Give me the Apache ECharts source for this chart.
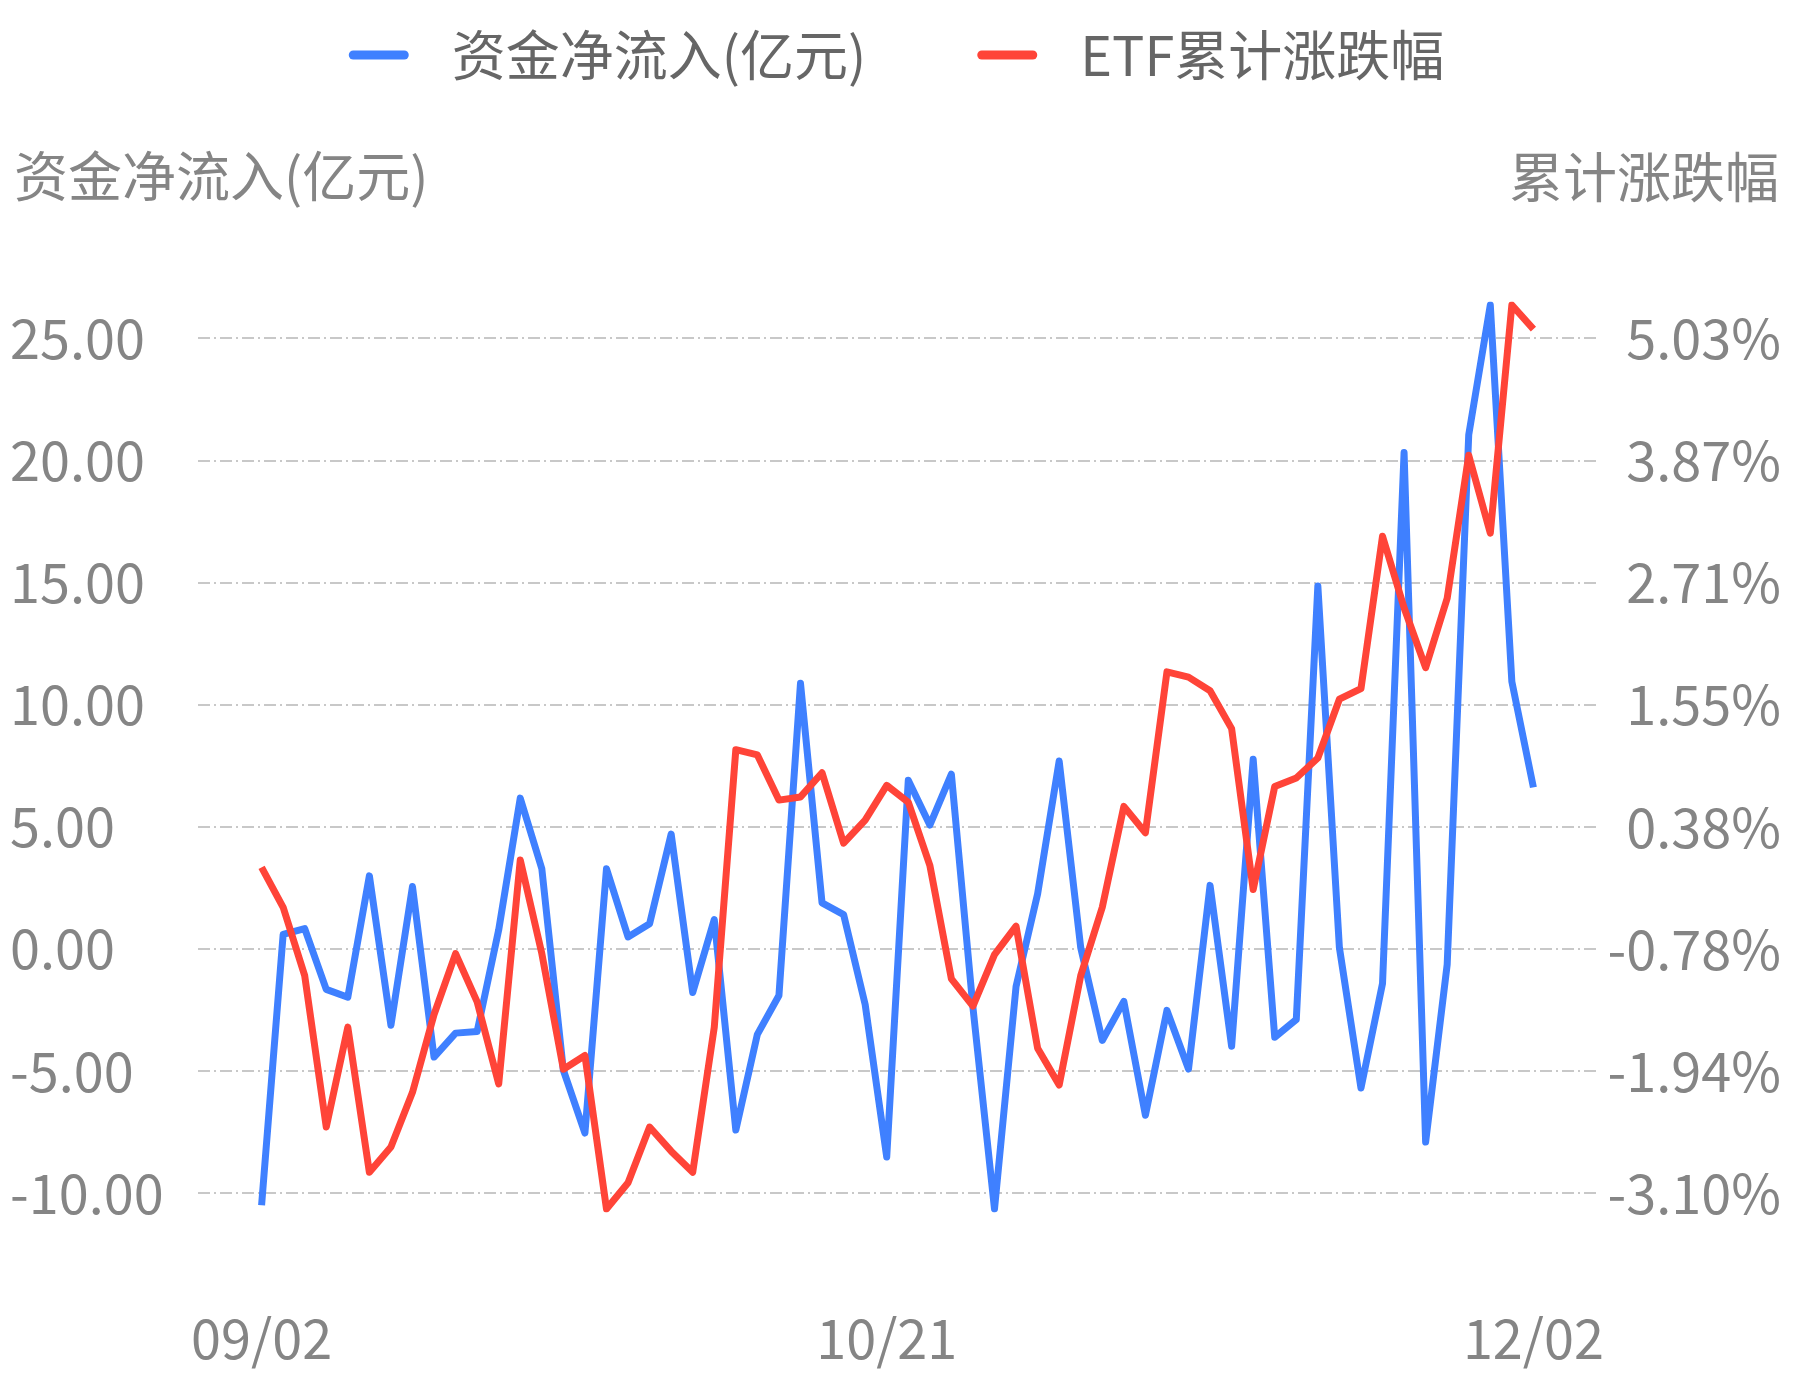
<!DOCTYPE html>
<html>
<head>
<meta charset="utf-8">
<script src="https://cdn.jsdelivr.net/npm/echarts@6/dist/echarts.min.js"></script>
<style>
html,body{margin:0;padding:0;background:#fff;}
#chart{width:1793px;height:1380px;}
</style>
</head>
<body>
<div id="chart"></div>
<script>
// ---- data ----
const dates = [
  '09/02','09/03','09/04','09/05','09/08','09/09','09/10','09/11','09/12','09/15',
  '09/16','09/17','09/18','09/19','09/22','09/23','09/24','09/25','09/26','09/29',
  '09/30','10/09','10/10','10/13','10/14','10/15','10/16','10/17','10/20','10/21',
  '10/22','10/23','10/24','10/27','10/28','10/29','10/30','10/31','11/03','11/04',
  '11/05','11/06','11/07','11/10','11/11','11/12','11/13','11/14','11/17','11/18',
  '11/19','11/20','11/21','11/24','11/25','11/26','11/27','11/28','12/01','12/02'
];
const netInflow = [
  -10.50, 0.59, 0.83, -1.66, -1.98, 2.99, -3.13, 2.55, -4.43, -3.45,
  -3.38, 0.78, 6.17, 3.28, -4.97, -7.54, 3.28, 0.49, 1.03, 4.70,
  -1.79, 1.20, -7.42, -3.50, -1.91, 10.87, 1.88, 1.40, -2.28, -8.52,
  6.90, 5.07, 7.15, -2.40, -10.65, -1.54, 2.25, 7.69, 0.05, -3.75,
  -2.15, -6.81, -2.52, -4.92, 2.60, -3.99, 7.76, -3.62, -2.89, 14.86,
  0.05, -5.70, -1.42, 20.32, -7.91, -0.64, 21.05, 26.36, 10.94, 6.61
];
const cumChange = [
  0.00, -0.38, -1.03, -2.47, -1.52, -2.90, -2.66, -2.14, -1.40, -0.82,
  -1.28, -2.06, 0.07, -0.82, -1.92, -1.79, -3.25, -3.00, -2.47, -2.70,
  -2.90, -1.52, 1.12, 1.07, 0.64, 0.67, 0.90, 0.23, 0.45, 0.78,
  0.62, 0.02, -1.06, -1.32, -0.83, -0.56, -1.72, -2.07, -1.03, -0.38,
  0.58, 0.33, 1.86, 1.81, 1.68, 1.32, -0.21, 0.77, 0.85, 1.04,
  1.60, 1.70, 3.15, 2.47, 1.90, 2.56, 3.92, 3.18, 5.35, 5.12
];
const leftTicks = [-10, -5, 0, 5, 10, 15, 20, 25];
const rightTicks = [-3.10, -1.94, -0.78, 0.38, 1.55, 2.71, 3.87, 5.03];
const xLabelIdx = [0, 29, 59];
const seriesNames = ['资金净流入(亿元)', 'ETF累计涨跌幅'];
const axisNames = ['资金净流入(亿元)', '累计涨跌幅'];

// ---- chart ----
const FONT = '"Noto Sans CJK SC", "Noto Sans", sans-serif';
const AXIS_COLOR = '#858585';
const chart = echarts.init(document.getElementById('chart'), null, {renderer: 'canvas'});
const option = {
  backgroundColor: '#ffffff',
  animation: false,
  textStyle: {fontFamily: FONT},
  title: {
    text: axisNames[0],
    left: 14,
    top: 149,
    padding: 0,
    textStyle: {fontSize: 54, fontWeight: 'normal', color: AXIS_COLOR, fontFamily: FONT}
  },
  legend: {
    top: 23,
    left: 'center',
    itemWidth: 60,
    itemHeight: 9,
    itemGap: 111,
    icon: 'path://M4.5,0 L55.5,0 A4.5,4.5 0 0 1 55.5,9 L4.5,9 A4.5,4.5 0 0 1 4.5,0 Z',
    textStyle: {fontSize: 54, color: '#666666', fontFamily: FONT, padding: [0, 0, 0, 38]},
    data: seriesNames
  },
  grid: {left: 198, right: 196, top: 305, bottom: 171, containLabel: false},
  xAxis: {
    type: 'value',
    min: e => e.min - (e.max - e.min) * 0.05,
    max: e => e.max + (e.max - e.min) * 0.05,
    axisLine: {show: false},
    axisTick: {show: false},
    splitLine: {show: false},
    axisLabel: {
      customValues: xLabelIdx,
      formatter: v => dates[Math.round(v)],
      fontSize: 54, color: AXIS_COLOR, fontFamily: FONT, margin: 102
    }
  },
  yAxis: [
    {
      type: 'value',
      position: 'left',
      offset: 183,
      min: 'dataMin',
      max: 'dataMax',
      axisLine: {show: false},
      axisTick: {show: false, customValues: leftTicks},
      axisLabel: {
        customValues: leftTicks,
        formatter: v => v.toFixed(2),
        align: 'left', margin: 5,
        fontSize: 54, color: AXIS_COLOR, fontFamily: FONT
      },
      splitLine: {show: true, lineStyle: {color: '#c8c8c8', width: 2, type: [12, 4, 2, 4]}}
    },
    {
      type: 'value',
      position: 'right',
      offset: 182,
      min: 'dataMin',
      max: 'dataMax',
      name: axisNames[1],
      nameLocation: 'end',
      nameGap: 128,
      nameMoveOverlap: false,
      nameTextStyle: {fontSize: 54, color: AXIS_COLOR, fontFamily: FONT, align: 'right', verticalAlign: 'middle'},
      axisLine: {show: false},
      axisTick: {show: false, customValues: rightTicks},
      axisLabel: {
        customValues: rightTicks,
        formatter: v => v.toFixed(2) + '%',
        align: 'right', margin: 2,
        fontSize: 54, color: AXIS_COLOR, fontFamily: FONT
      },
      splitLine: {show: false}
    }
  ],
  series: [
    {
      name: seriesNames[0],
      type: 'line',
      yAxisIndex: 0,
      symbol: 'none',
      color: '#3f80ff',
      lineStyle: {width: 7, color: '#3f80ff', join: 'round'},
      data: netInflow.map((v, i) => [i, v])
    },
    {
      name: seriesNames[1],
      type: 'line',
      yAxisIndex: 1,
      symbol: 'none',
      color: '#ff4438',
      lineStyle: {width: 7, color: '#ff4438', join: 'round'},
      data: cumChange.map((v, i) => [i, v])
    }
  ]
};
chart.setOption(option);
</script>
</body>
</html>
